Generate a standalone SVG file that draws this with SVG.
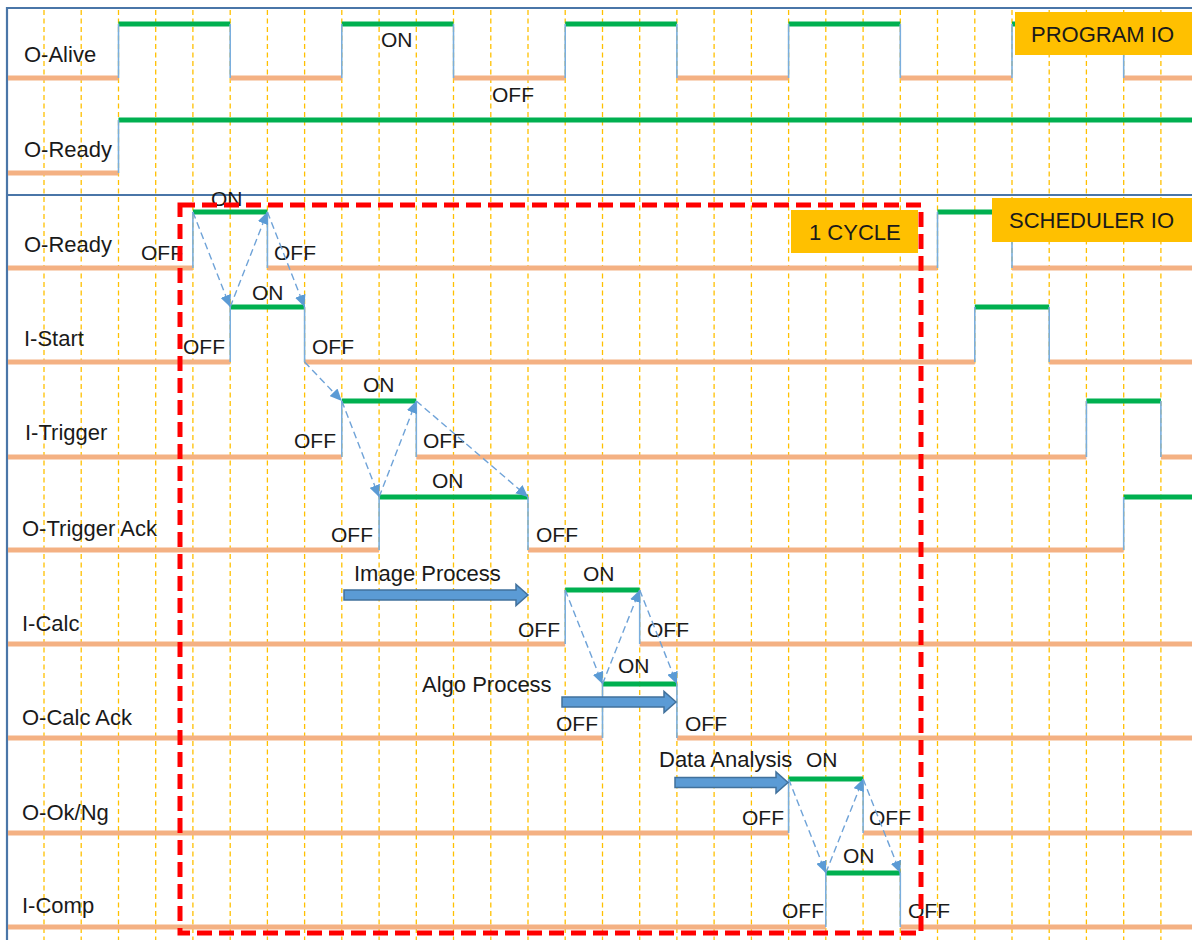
<svg xmlns="http://www.w3.org/2000/svg" width="1192" height="940" viewBox="0 0 1192 940">
<style>
.grid{stroke:#ffc000;stroke-width:1.3;stroke-dasharray:5 3.5;fill:none}
.frame{stroke:#4a76a8;stroke-width:2.2;fill:none}
.lo{stroke:#f4b183;stroke-width:5;fill:none}
.hi{stroke:#00b050;stroke-width:5;fill:none}
.ed{stroke:#7aaedd;stroke-width:1.6;fill:none}
.dc{stroke:#6fa3d8;stroke-width:1.4;stroke-dasharray:7 4;fill:none;marker-end:url(#ah)}
.blk{fill:#5b9bd5;stroke:#41719c;stroke-width:1.5}
.box{fill:#ffc000}
.cyc{fill:none;stroke:#ff0000;stroke-width:5;stroke-dasharray:15 7}
text{font-family:"Liberation Sans",Arial,sans-serif;fill:#1a1a1a}
.lb{font-size:22px}
.st{font-size:21px}
</style>
<defs>
<marker id="ah" markerWidth="13" markerHeight="11" refX="12" refY="5.5" orient="auto" markerUnits="userSpaceOnUse">
<path d="M0,0 L12,5.5 L0,11 Z" fill="#5b9bd5"/>
</marker>
</defs>
<g id="grid">
<path class="grid" d="M44,10V940M81.2,10V940M118.5,10V940M155.7,10V940M192.9,10V940M230.2,10V940M267.4,10V940M304.6,10V940M341.8,10V940M379.1,10V940M416.3,10V940M453.5,10V940M490.8,10V940M528,10V940M565.2,10V940M602.5,10V940M639.7,10V940M676.9,10V940M714.1,10V940M751.4,10V940M788.6,10V940M825.8,10V940M863.1,10V940M900.3,10V940M937.5,10V940M974.8,10V940M1012,10V940M1049.2,10V940M1086.4,10V940M1123.7,10V940M1160.9,10V940"/>
</g>
<g id="frame">
<path class="frame" d="M7,940V8H1192M7,195H1192"/>
</g>
<g id="sig-o-alive">
<path class="lo" d="M8,78H118.5M230.2,78H341.8M453.5,78H565.2M676.9,78H788.6M900.3,78H1012M1123.7,78H1192"/>
<path class="hi" d="M118.5,24H230.2M341.8,24H453.5M565.2,24H676.9M788.6,24H900.3M1012,24H1123.7"/>
<path class="ed" d="M118.5,78V24M230.2,24V78M341.8,78V24M453.5,24V78M565.2,78V24M676.9,24V78M788.6,78V24M900.3,24V78M1012,78V24M1123.7,24V78"/>
<text class="lb" x="24" y="62">O-Alive</text>
<text class="st" x="381" y="47">ON</text>
<text class="st" x="492" y="102">OFF</text>
</g>
<g id="sig-o-ready-prog">
<path class="lo" d="M8,173H118.5"/>
<path class="hi" d="M118.5,120H1192"/>
<path class="ed" d="M118.5,173V120"/>
<text class="lb" x="24" y="157">O-Ready</text>
</g>
<g id="sig-o-ready">
<path class="lo" d="M8,268H192.9M267.4,268H937.5M1012,268H1192"/>
<path class="hi" d="M192.9,212H267.4M937.5,212H1012"/>
<path class="ed" d="M192.9,268V212M267.4,212V268M937.5,268V212M1012,212V268"/>
<text class="lb" x="24" y="252">O-Ready</text>
<text class="st" x="211" y="206">ON</text>
<text class="st" x="141" y="260">OFF</text>
<text class="st" x="274" y="260">OFF</text>
</g>
<g id="sig-i-start">
<path class="lo" d="M8,362H230.2M304.6,362H974.8M1049.2,362H1192"/>
<path class="hi" d="M230.2,307H304.6M974.8,307H1049.2"/>
<path class="ed" d="M230.2,362V307M304.6,307V362M974.8,362V307M1049.2,307V362"/>
<text class="lb" x="24" y="346">I-Start</text>
<text class="st" x="252" y="300">ON</text>
<text class="st" x="183" y="354">OFF</text>
<text class="st" x="312" y="354">OFF</text>
</g>
<g id="sig-i-trigger">
<path class="lo" d="M8,457H341.8M416.3,457H1086.4M1160.9,457H1192"/>
<path class="hi" d="M341.8,401H416.3M1086.4,401H1160.9"/>
<path class="ed" d="M341.8,457V401M416.3,401V457M1086.4,457V401M1160.9,401V457"/>
<text class="lb" x="25" y="440">I-Trigger</text>
<text class="st" x="363" y="392">ON</text>
<text class="st" x="294" y="448">OFF</text>
<text class="st" x="423" y="448">OFF</text>
</g>
<g id="sig-o-trigger-ack">
<path class="lo" d="M8,550H379.1M528,550H1123.7"/>
<path class="hi" d="M379.1,497H528M1123.7,497H1192"/>
<path class="ed" d="M379.1,550V497M528,497V550M1123.7,550V497"/>
<text class="lb" x="22" y="536">O-Trigger Ack</text>
<text class="st" x="432" y="488">ON</text>
<text class="st" x="331" y="542">OFF</text>
<text class="st" x="536" y="542">OFF</text>
</g>
<g id="sig-i-calc">
<path class="lo" d="M8,644H565.2M639.7,644H1192"/>
<path class="hi" d="M565.2,590H639.7"/>
<path class="ed" d="M565.2,644V590M639.7,590V644"/>
<text class="lb" x="22" y="631">I-Calc</text>
<text class="st" x="583" y="581">ON</text>
<text class="st" x="518" y="637">OFF</text>
<text class="st" x="647" y="637">OFF</text>
</g>
<g id="sig-o-calc-ack">
<path class="lo" d="M8,738H602.5M676.9,738H1192"/>
<path class="hi" d="M602.5,684H676.9"/>
<path class="ed" d="M602.5,738V684M676.9,684V738"/>
<text class="lb" x="22" y="725">O-Calc Ack</text>
<text class="st" x="618" y="673">ON</text>
<text class="st" x="556" y="731">OFF</text>
<text class="st" x="685" y="731">OFF</text>
</g>
<g id="sig-o-ok-ng">
<path class="lo" d="M8,833H788.6M863.1,833H1192"/>
<path class="hi" d="M788.6,779H863.1"/>
<path class="ed" d="M788.6,833V779M863.1,779V833"/>
<text class="lb" x="22" y="820">O-Ok/Ng</text>
<text class="st" x="806" y="767">ON</text>
<text class="st" x="742" y="825">OFF</text>
<text class="st" x="869" y="825">OFF</text>
</g>
<g id="sig-i-comp">
<path class="lo" d="M8,927H825.8M900.3,927H1192"/>
<path class="hi" d="M825.8,873H900.3"/>
<path class="ed" d="M825.8,927V873M900.3,873V927"/>
<text class="lb" x="22" y="913">I-Comp</text>
<text class="st" x="843" y="863">ON</text>
<text class="st" x="782" y="918">OFF</text>
<text class="st" x="908" y="918">OFF</text>
</g>
<g id="connectors">
<path class="dc" d="M192.9,212L230.2,307"/>
<path class="dc" d="M230.2,307L267.4,212"/>
<path class="dc" d="M267.4,212L304.6,307"/>
<path class="dc" d="M304.6,362L341.8,401"/>
<path class="dc" d="M341.8,401L379.1,497"/>
<path class="dc" d="M379.1,497L416.3,401"/>
<path class="dc" d="M416.3,401L528,497"/>
<path class="dc" d="M565.2,590L602.5,684"/>
<path class="dc" d="M602.5,684L639.7,590"/>
<path class="dc" d="M639.7,590L676.9,684"/>
<path class="dc" d="M788.6,779L825.8,873"/>
<path class="dc" d="M825.8,873L863.1,779"/>
<path class="dc" d="M863.1,779L900.3,873"/>
</g>
<g id="process-arrows">
<path class="blk" d="M344,590H516V584.5L528,595L516,605.5V600H344Z"/>
<text class="lb" x="354" y="581">Image Process</text>
<path class="blk" d="M562,697H664V691.5L676,702L664,712.5V707H562Z"/>
<text class="lb" x="422" y="692">Algo Process</text>
<path class="blk" d="M675,777.5H776V772L788,782.5L776,793V787.5H675Z"/>
<text class="lb" x="659" y="767">Data Analysis</text>
</g>
<g id="cycle">
<rect class="cyc" x="180" y="205" width="741" height="728"/>
</g>
<g id="label-program-io">
<rect class="box" x="1015" y="12" width="177" height="43"/>
<text class="lb" x="1031" y="42">PROGRAM IO</text>
</g>
<g id="label-scheduler-io">
<rect class="box" x="992" y="198" width="200" height="44"/>
<text class="lb" x="1009" y="228">SCHEDULER IO</text>
</g>
<g id="label-1-cycle">
<rect class="box" x="791" y="210" width="127" height="43"/>
<text class="lb" x="809" y="240">1 CYCLE</text>
</g>
</svg>
